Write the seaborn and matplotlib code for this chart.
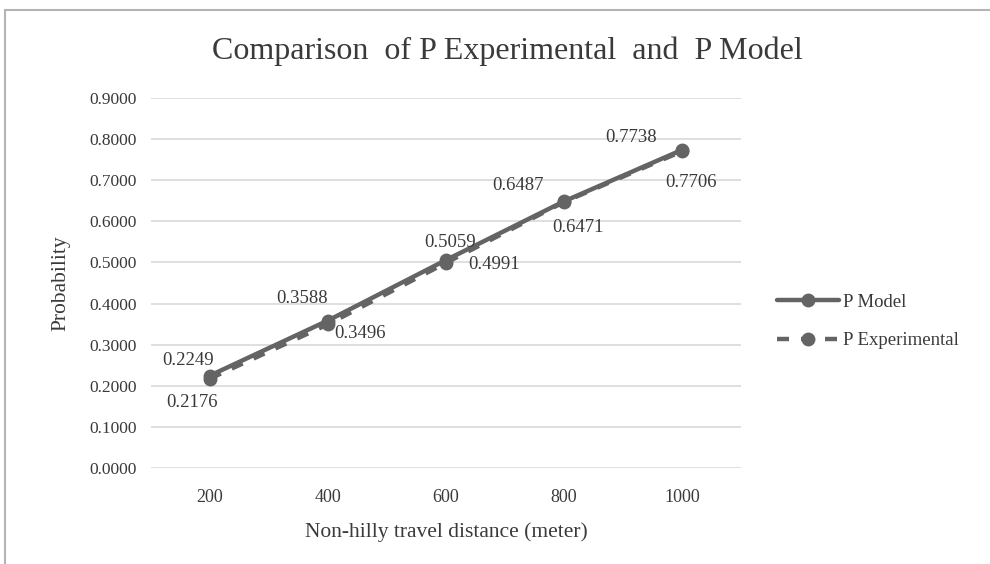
#!/usr/bin/env python3
# coding=utf-8
# Comparison of P Experimental and P Model, Excel-style line chart.

from matplotlib import pyplot as plt
from matplotlib.lines import Line2D
import pandas as pd
import seaborn as sns

distance = [200, 400, 600, 800, 1000]
p_model = [0.2249, 0.3588, 0.5059, 0.6487, 0.7738]
p_experimental = [0.2176, 0.3496, 0.4991, 0.6471, 0.7706]
y_ticks = [0.0, 0.1, 0.2, 0.3, 0.4, 0.5, 0.6, 0.7, 0.8, 0.9]

# label offsets in pixels (dragged labels in the original)
model_offsets = [(-22, 15), (-26, 22), (4, 18), (-46, 16), (-51, 12)]
exp_offsets = [(-18, -24), (32, -9), (48, -2), (14, -26), (9, -31)]

GRAY = "#646464"
TEXT = "#3a3a3a"


def plot_graph(fig_location="out.png"):
    df = pd.DataFrame({
        "distance": distance * 2,
        "p": p_experimental + p_model,
        "series": ["P Experimental"] * 5 + ["P Model"] * 5,
    })

    sns.set_theme(style="white")
    plt.rcParams["font.family"] = ["Liberation Serif", "DejaVu Serif"]

    fig = plt.figure(figsize=(9.9, 5.64), dpi=100)
    ax = fig.add_axes([0.1525, 0.1702, 0.596, 0.656])

    sns.lineplot(data=df, x="distance", y="p", hue="series", style="series",
                 palette={"P Model": GRAY, "P Experimental": GRAY},
                 dashes={"P Model": "", "P Experimental": (2.7, 2.7)},
                 markers={"P Model": "o", "P Experimental": "o"},
                 markersize=10, markeredgewidth=0, linewidth=3.2,
                 legend=False, ax=ax, zorder=3)

    for x, y, off in zip(distance, p_model, model_offsets):
        ax.annotate(f"{y:.4f}", (x, y), xytext=off, textcoords="offset pixels",
                    ha="center", va="center", fontsize=13.5, color=TEXT)
    for x, y, off in zip(distance, p_experimental, exp_offsets):
        ax.annotate(f"{y:.4f}", (x, y), xytext=off, textcoords="offset pixels",
                    ha="center", va="center", fontsize=13.5, color=TEXT)

    ax.set_xlim(100, 1100)
    ax.set_ylim(0, 0.9)
    ax.set_xticks(distance)
    ax.set_yticks(y_ticks)
    ax.set_yticklabels([f"{v:.4f}" for v in y_ticks])
    ax.tick_params(length=0, labelsize=12.5, labelcolor=TEXT)
    ax.tick_params(axis="y", pad=10)
    ax.tick_params(axis="x", pad=15, labelsize=13)
    ax.grid(axis="y", color="#d9d9d9", linewidth=1.2)
    ax.set_axisbelow(True)
    sns.despine(ax=ax, left=True, bottom=True)

    ax.set_xlabel("Non-hilly travel distance (meter)", fontsize=15.5, color=TEXT, labelpad=12)
    ax.set_ylabel("Probability", fontsize=15.5, color=TEXT, labelpad=14)
    fig.text(0.512, 0.91, "Comparison  of P Experimental  and  P Model",
             ha="center", va="center", fontsize=23, color=TEXT)

    handles = [
        Line2D([], [], color=GRAY, linewidth=3.2, marker="o", markersize=10, markeredgewidth=0),
        Line2D([], [], color=GRAY, linewidth=3.2, marker="o", markersize=10, markeredgewidth=0,
               dashes=(2.7, 2.7)),
    ]
    fig.legend(handles, ["P Model", "P Experimental"], loc="center left",
               bbox_to_anchor=(0.768, 0.43), frameon=False, fontsize=13.5,
               handlelength=3.3, handletextpad=0.2, labelspacing=1.15,
               labelcolor=TEXT)

    # partial outer frame (top and left edges)
    fig.add_artist(Line2D([0.005, 1.0], [0.982, 0.982], color="#b4b4b4", linewidth=1.5,
                          transform=fig.transFigure))
    fig.add_artist(Line2D([0.005, 0.005], [0.0, 0.982], color="#b4b4b4", linewidth=1.5,
                          transform=fig.transFigure))

    fig.savefig(fig_location, dpi=100)


if __name__ == "__main__":
    plot_graph("out.png")
